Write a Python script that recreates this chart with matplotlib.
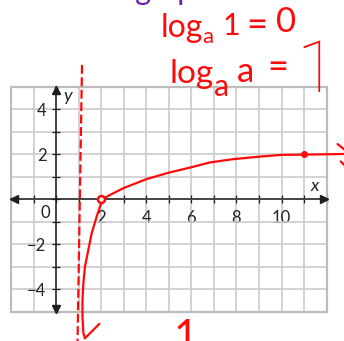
import matplotlib
matplotlib.use("Agg")
import matplotlib.pyplot as plt
from matplotlib.patches import Rectangle
import numpy as np

plt.rcParams['font.family'] = ['Lato', 'DejaVu Sans']

# pen stroke of y = log_a(x - 1), from the bottom tip up to the right edge
curve_x = [1.28, 1.21, 1.17, 1.17, 1.21, 1.28, 1.43, 1.58, 1.80, 2.02, 2.20, 2.39,
           2.98, 4.00, 5.00, 6.00, 6.80, 7.85, 9.00, 10.00, 11.00, 12.74]
curve_y = [-6.18, -5.96, -5.22, -4.48, -3.73, -3.00, -2.25, -1.51, -0.77, -0.10, 0.08, 0.19,
           0.49, 0.89, 1.18, 1.42, 1.63, 1.78, 1.89, 1.97, 1.98, 2.01]
# arrow strokes at both ends of the curve
tail_x = [1.28, 1.92]
tail_y = [-6.18, -5.54]
head_x = [12.48, 12.95, np.nan, 12.62, 12.90]
head_y = [2.45, 2.08, np.nan, 1.68, 1.40]
# asymptote x = 1 (hand drawn, dashed)
asym_x = [1.15, 0.95]
asym_y = [5.97, -6.3]
# marked points on the curve
pt_x = [2, 11]
pt_y = [0, 2]

x_major = [2, 4, 6, 8, 10]
y_major = [-4, -2, 2, 4]

fig = plt.figure(figsize=(3.44, 3.41), dpi=100)
ax = fig.add_axes([11 / 344, 29.3 / 341, 315.7 / 344, 225 / 341])
ax.set_xlim(-2, 12)
ax.set_ylim(-5, 5)
ax.set_xticks(np.arange(-2, 13), minor=True)
ax.set_yticks(np.arange(-5, 6), minor=True)
ax.set_xticks(x_major, [str(v) for v in x_major])
ax.set_yticks(y_major, [str(v).replace('-', '\u2212') for v in y_major])
ax.grid(which='both', color='#cbcbcb', lw=1.2)
ax.set_axisbelow(True)
ax.add_patch(Rectangle((-2, -5), 14, 10, fill=False, ec='#bcbcbc', lw=1.6,
                       clip_on=False, zorder=1))

for s in ['top', 'right']:
    ax.spines[s].set_visible(False)
ax.spines['left'].set_position(('data', 0))
ax.spines['bottom'].set_position(('data', 0))
for s in ['left', 'bottom']:
    ax.spines[s].set_color('#1e1e1e')
    ax.spines[s].set_linewidth(1.1)
ax.tick_params(which='both', direction='inout', length=6, width=0.9, color='#1e1e1e')
ax.tick_params(axis='x', labelsize=12, labelcolor='#222222', pad=5)
ax.tick_params(axis='y', labelsize=12, labelcolor='#222222', pad=4)

# axis arrowheads
ax.plot([11.87], [0], marker='>', ms=5.5, color='#1e1e1e', clip_on=False, zorder=4)
ax.plot([-1.87], [0], marker='<', ms=5.5, color='#1e1e1e', clip_on=False, zorder=4)
ax.plot([0], [4.87], marker='^', ms=5.5, color='#1e1e1e', clip_on=False, zorder=4)
ax.plot([0], [-4.87], marker='v', ms=5.5, color='#1e1e1e', clip_on=False, zorder=4)

ax.text(-0.47, -0.6, '0', ha='center', va='center', fontsize=12, color='#222222')
ax.text(11.45, 0.6, 'x', ha='center', va='center', fontsize=13, style='italic', color='#222222')
ax.text(0.5, 4.6, 'y', ha='center', va='center', fontsize=13, style='italic', color='#222222')

# red pen work
red = '#ff0a0a'
ax.plot(asym_x, asym_y, color=red, lw=1.6, dashes=(4, 1.6), clip_on=False, zorder=5)
ax.plot(curve_x, curve_y, color=red, lw=1.6, clip_on=False, zorder=6,
        solid_capstyle='round', solid_joinstyle='round')
ax.plot(tail_x, tail_y, color=red, lw=1.6, clip_on=False, zorder=6, solid_capstyle='round')
ax.plot(head_x, head_y, color=red, lw=1.6, clip_on=False, zorder=6, solid_capstyle='round')
ax.plot(pt_x[:1], pt_y[:1], 'o', ms=5, mfc='white', mec=red, mew=1.8, clip_on=False, zorder=7)
ax.plot(pt_x[1:], pt_y[1:], 'o', ms=4, color=red, clip_on=False, zorder=7)

# handwritten notes, in pixel coordinates from the top-left corner
ov = fig.add_axes([0, 0, 1, 1])
ov.set_xlim(0, 344)
ov.set_ylim(341, 0)
ov.axis('off')
hand = ['Lato', 'DejaVu Sans']

def note(x, y, s, size, color=red, va='baseline', family=hand, weight='normal'):
    ov.text(x, y, s, fontsize=size, color=color, family=family, weight=weight,
            ha='left', va=va)

note(161, 37, 'log', 23)
note(202, 43, 'a', 16)
note(223, 35, '1', 22)
note(246, 25, '=', 26, va='center')
note(276, 32, '0', 25)

note(169, 83, 'log', 24)
note(214, 96, 'a', 22)
note(237, 82, 'a', 25)
note(267, 68, '=', 26, va='center')
note(296, 92, '1', 52, family=['Roboto', 'Lato'], weight='light')

note(127, 362, 'x', 26)
note(146, 359, '=', 26)
note(174, 350, '1', 30)

note(14, 0, 'Sketch a graph of the following', 22, color='#6a1fa6')

fig.savefig('out.png', dpi=100)
